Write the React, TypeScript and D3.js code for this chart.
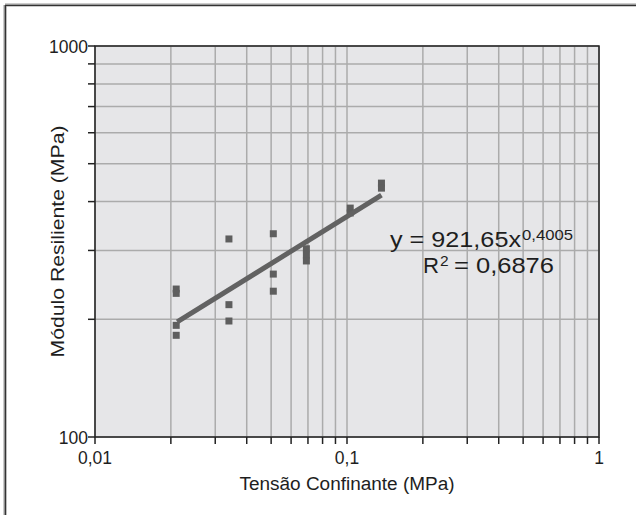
import React from "react";
import * as d3 from "d3";

const confiningStress = [0.021, 0.021, 0.021, 0.021, 0.034, 0.034, 0.034, 0.051, 0.051, 0.051, 0.069, 0.069, 0.069, 0.103, 0.103, 0.137, 0.137];
const resilientModulus = [239, 233, 193, 182, 321, 218, 198, 331, 261, 236, 303, 292, 282, 385, 374, 446, 433];
const xTickLabels = ["0,01", "0,1", "1"];
const xTickValues = [0.01, 0.1, 1];
const yTickLabels = ["100", "1000"];
const yTickValues = [100, 1000];
const fitCoef = 921.65;
const fitExp = 0.4005;
const fitRange = [0.0212, 0.137];

const W = 636;
const H = 515;
const L = 95, R = 599, T = 46, B = 437;

export default function App() {
  const x = d3.scaleLog().domain([0.01, 1]).range([L, R]);
  const y = d3.scaleLog().domain([100, 1000]).range([B, T]);
  const xMinor: number[] = [];
  for (const dec of [0.01, 0.1]) for (let k = 1; k <= 9; k++) xMinor.push(dec * k);
  xMinor.push(1);
  const yMinor: number[] = [];
  for (let k = 1; k <= 10; k++) yMinor.push(100 * k);
  const fit = (v: number) => fitCoef * Math.pow(v, fitExp);
  const line = d3.line<number>().x((d) => x(d)).y((d) => y(fit(d)));
  const font = "'Liberation Sans', Arial, sans-serif";
  const sq = 7;
  const ink = "#1e1e1e";
  return (
    <div style={{ position: "absolute", left: 0, top: 0 }}>
      <svg width={W} height={H} style={{ display: "block", fontFamily: font }}>
        <rect x={0} y={0} width={W} height={H} fill="#fff" />
        <line x1={5} y1={5} x2={W} y2={5} stroke="#9a9a9a" strokeWidth={3} />
        <line x1={5} y1={5} x2={5} y2={H} stroke="#9a9a9a" strokeWidth={3} />
        <line x1={5} y1={5.5} x2={W} y2={5.5} stroke="#333" strokeWidth={1.2} />
        <line x1={5.5} y1={5} x2={5.5} y2={H} stroke="#333" strokeWidth={1.2} />
        <rect x={L} y={T} width={R - L} height={B - T} fill="#e6e6e8" />
        {xMinor.map((v, i) => (
          <line key={"gx" + i} x1={x(v)} x2={x(v)} y1={T} y2={B} stroke="#ababab" strokeWidth={1.5} />
        ))}
        {yMinor.map((v, i) => (
          <line key={"gy" + i} x1={L} x2={R} y1={y(v)} y2={y(v)} stroke="#ababab" strokeWidth={1.5} />
        ))}
        <rect x={L} y={T} width={R - L} height={B - T} fill="none" stroke="#222" strokeWidth={1.5} />
        {xMinor.map((v, i) => (
          <line key={"tx" + i} x1={x(v)} x2={x(v)} y1={B} y2={B + 7} stroke="#222" strokeWidth={1.5} />
        ))}
        {yMinor.map((v, i) => (
          <line key={"ty" + i} x1={L - 7} x2={L} y1={y(v)} y2={y(v)} stroke="#222" strokeWidth={1.5} />
        ))}
        {xTickValues.map((v, i) => (
          <text key={"xl" + i} x={x(v)} y={B + 27} textAnchor="middle" fontSize={17.5} fill={ink}>
            {xTickLabels[i]}
          </text>
        ))}
        {yTickValues.map((v, i) => (
          <text key={"yl" + i} x={L - 7} y={y(v) + 6.5} textAnchor="end" fontSize={17.5} fill={ink}>
            {yTickLabels[i]}
          </text>
        ))}
        <text x={(L + R) / 2} y={490} textAnchor="middle" fontSize={18} fill={ink} textLength={215} lengthAdjust="spacingAndGlyphs">
          Tensão Confinante (MPa)
        </text>
        <text
          transform={`translate(64, ${(T + B) / 2}) rotate(-90)`}
          textAnchor="middle"
          fontSize={18}
          fill={ink}
          textLength={232}
          lengthAdjust="spacingAndGlyphs"
        >
          Módulo Resiliente (MPa)
        </text>
        {confiningStress.map((v, i) => (
          <rect key={"p" + i} x={x(v) - sq / 2} y={y(resilientModulus[i]) - sq / 2} width={sq} height={sq} fill="#5e5e5e" />
        ))}
        <path d={line(fitRange) || ""} stroke="#626262" strokeWidth={5} fill="none" />
        <text x={390} y={247} fontSize={21.5} fill={ink} textLength={131} lengthAdjust="spacingAndGlyphs">
          y = 921,65x
        </text>
        <text x={522} y={240} fontSize={14.5} fill={ink} textLength={51} lengthAdjust="spacingAndGlyphs">
          0,4005
        </text>
        <text x={423} y={273} fontSize={21.5} fill={ink} textLength={16} lengthAdjust="spacingAndGlyphs">
          R
        </text>
        <text x={440} y={266} fontSize={15.5} fill={ink}>
          2
        </text>
        <text x={454} y={273} fontSize={21.5} fill={ink} textLength={100} lengthAdjust="spacingAndGlyphs">
          = 0,6876
        </text>
      </svg>
    </div>
  );
}
